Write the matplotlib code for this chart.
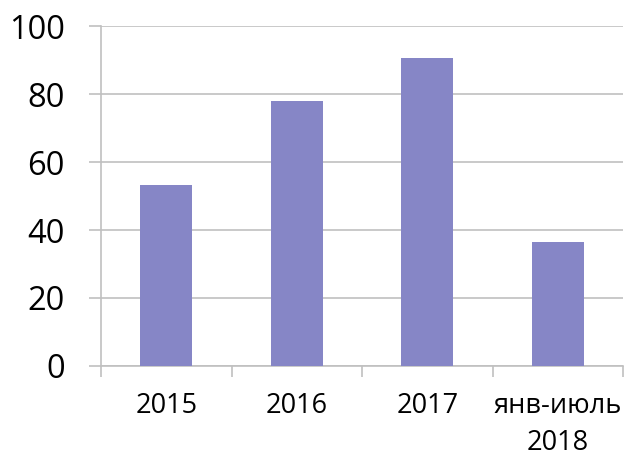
import matplotlib
matplotlib.use("Agg")
import matplotlib.pyplot as plt
import numpy as np

# data
categories = ["2015", "2016", "2017", "янв-июль\n2018"]
values = [53.2, 78.0, 90.5, 36.6]
y_ticks = [0, 20, 40, 60, 80, 100]

BAR_COLOR = "#8686C6"
GRID_COLOR = "#C0C0C0"

plt.rcParams["font.family"] = ["Open Sans", "DejaVu Sans"]

fig = plt.figure(figsize=(6.25, 4.58), dpi=100)
ax = fig.add_axes([0.1616, 0.201, 0.8354, 0.742])

x = np.arange(len(categories))
ax.bar(x, values, width=0.4, color=BAR_COLOR, zorder=3)

ax.set_xlim(-0.5, len(categories) - 0.5)
ax.set_ylim(0, 100)
ax.set_yticks(y_ticks)
ax.set_yticklabels([str(v) for v in y_ticks], fontsize=23.5)
ax.yaxis.grid(True, color=GRID_COLOR, lw=1.2, zorder=0)

# category labels at centers, tick marks at boundaries
ax.set_xticks(x)
ax.set_xticklabels(categories, fontsize=19.5, linespacing=1.4)
ax.tick_params(axis="x", which="major", length=0, pad=19)
ax.set_xticks(np.arange(len(categories) + 1) - 0.5, minor=True)
ax.tick_params(axis="x", which="minor", length=8, width=1.2, color=GRID_COLOR)
ax.tick_params(axis="y", length=9, width=1.2, color=GRID_COLOR, pad=17)

for side in ["top", "right"]:
    ax.spines[side].set_visible(False)
for side in ["left", "bottom"]:
    ax.spines[side].set_color(GRID_COLOR)
    ax.spines[side].set_linewidth(1.2)

fig.savefig("out.png", dpi=100)
